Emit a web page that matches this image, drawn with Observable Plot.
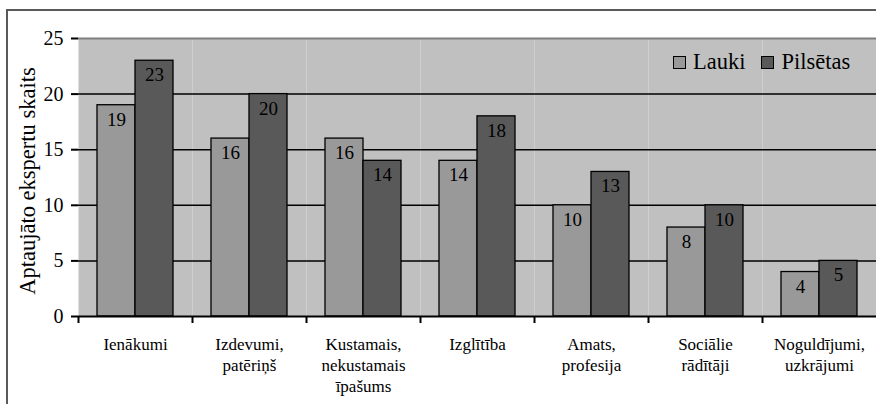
<!DOCTYPE html>
<html><head><meta charset="utf-8">
<script src="https://cdn.jsdelivr.net/npm/d3@7"></script>
<script src="https://cdn.jsdelivr.net/npm/@observablehq/plot@0.6"></script>
<style>
html,body{margin:0;padding:0;background:#fff;}
#wrap{position:relative;width:876px;height:404px;overflow:hidden;font-family:"Liberation Serif","Times New Roman",serif;}
#wrap *, #chart svg, #chart svg text{font-family:"Liberation Serif","Times New Roman",serif !important;}
#border{position:absolute;left:6px;top:9px;width:1000px;height:600px;border-left:2px solid #5a5a5a;border-top:2px solid #5a5a5a;pointer-events:none;}
#chart{position:absolute;left:0;top:0;}
#ytitle{position:absolute;left:28px;top:181px;transform:translate(-50%,-50%) rotate(-90deg);white-space:nowrap;font-size:22.5px;line-height:1;color:#000;}
#legend{position:absolute;left:673px;top:51px;display:flex;align-items:center;font-size:22.5px;line-height:1;color:#000;}
#legend .item{display:flex;align-items:center;margin-right:16px;}
#legend .sw{width:11px;height:11px;border:1.5px solid #000;margin-right:7px;}
</style>
</head><body>
<div id="wrap">
  <div id="chart"></div>
  <div id="border"></div>
  <div id="ytitle"></div>
  <div id="legend"></div>
</div>
<script>
const categories = ["Ienākumi", "Izdevumi,\npatēriņš", "Kustamais,\nnekustamais\nīpašums", "Izglītība", "Amats,\nprofesija", "Sociālie\nrādītāji", "Noguldījumi,\nuzkrājumi"];
const series = ["Lauki", "Pilsētas"];
const lauki = [19, 16, 16, 14, 10, 8, 4];
const pilsetas = [23, 20, 14, 18, 13, 10, 5];
const yTicks = [0, 5, 10, 15, 20, 25];
const yTitle = "Aptaujāto ekspertu skaits";
const colors = ["#999999", "#595959"];
const serif = "Liberation Serif, Times New Roman, serif";

const data = categories.flatMap((c, i) => [
  {cat: c, series: series[0], value: lauki[i]},
  {cat: c, series: series[1], value: pilsetas[i]}
]);

const W = 876, H = 404, mL = 78, mR = 0, mT = 38, mB = 88;
const band = (W - mL - mR) / categories.length;

const chart = Plot.plot({
  width: W, height: H,
  marginLeft: mL, marginRight: mR, marginTop: mT, marginBottom: mB,
  style: {background: "transparent", color: "#000"},
  fx: {domain: categories, padding: 0, label: null, axis: null},
  x: {domain: series, paddingInner: 0, paddingOuter: 0.5, axis: null},
  y: {domain: [0, 25], axis: null},
  color: {domain: series, range: colors},
  marks: [
    Plot.frame({fill: "#c0c0c0", stroke: null}),
    Plot.ruleY(yTicks.filter(v => v > 0 && v < 25), {stroke: "#000", strokeWidth: 1.5}),
    Plot.ruleY([25], {stroke: "#7f7f7f", strokeWidth: 2}),
    Plot.barY(data, {fx: "cat", x: "series", y: "value", fill: "series", stroke: "#000", strokeWidth: 1.3}),
    Plot.text(data, {fx: "cat", x: "series", y: "value", text: d => String(d.value), lineAnchor: "top", dy: 7, fontSize: 19, fontFamily: serif, fill: "#000"}),
    Plot.ruleY([0], {stroke: "#000", strokeWidth: 2}),
    Plot.axisY(yTicks, {tickSize: 7, tickPadding: 8, fontSize: 20, fontFamily: serif, label: null, line: true, strokeWidth: 2}),
    Plot.axisFx({anchor: "bottom", tickSize: 0, tickPadding: 18, fontSize: 17, fontFamily: serif, lineHeight: 1.25, label: null}),
    Plot.axisFx({anchor: "bottom", tickSize: 7, tickFormat: () => "", dx: -band / 2, label: null, strokeWidth: 2})
  ]
});
document.getElementById("chart").appendChild(chart);
document.getElementById("ytitle").textContent = yTitle;

const legend = document.getElementById("legend");
series.forEach((s, i) => {
  const item = document.createElement("div");
  item.className = "item";
  const sw = document.createElement("div");
  sw.className = "sw";
  sw.style.background = colors[i];
  const t = document.createElement("span");
  t.textContent = s;
  item.appendChild(sw);
  item.appendChild(t);
  legend.appendChild(item);
});
</script>
</body></html>
